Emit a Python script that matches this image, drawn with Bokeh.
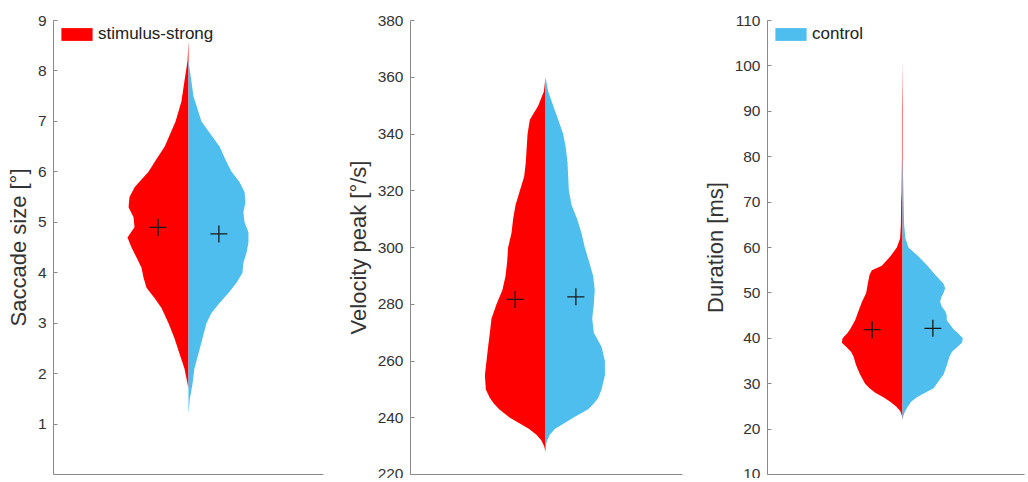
from bokeh.plotting import figure
from bokeh.layouts import row
from bokeh.models import Range1d, FixedTicker, Legend, LegendItem
from bokeh.embed import file_html
from bokeh.resources import INLINE

# ---------------- data ----------------
labels = ["stimulus-strong", "control"]
colors = ["#FF0000", "#4DBEEE"]

# Panel 1: Saccade size
sacc_red_y = [8.6, 8.2, 7.8, 7.4, 7.0, 6.5, 6.2, 6.0, 5.7, 5.5, 5.3, 5.1, 4.9, 4.7, 4.5, 4.3, 4.1, 3.9, 3.7, 3.5, 3.3, 3.0, 2.7, 2.4, 2.1, 1.8, 1.7]
sacc_red_w = [0, .007, .030, .052, .096, .176, .250, .296, .398, .437, .444, .407, .400, .452, .422, .385, .348, .333, .311, .252, .200, .148, .104, .067, .030, .007, 0]
sacc_blue_y = [8.2, 7.5, 7.0, 6.5, 6.2, 6.0, 5.8, 5.6, 5.4, 5.2, 5.0, 4.8, 4.6, 4.4, 4.2, 4.0, 3.8, 3.6, 3.4, 3.2, 3.0, 2.7, 2.4, 2.1, 1.8, 1.5, 1.2]
sacc_blue_w = [0, .037, .096, .230, .281, .319, .378, .415, .422, .407, .415, .444, .444, .430, .407, .400, .356, .296, .230, .170, .133, .104, .074, .044, .030, .010, 0]
sacc_means = [4.90, 4.77]

# Panel 2: Velocity peak
vel_red_y = [360, 355, 350, 345, 340, 330, 325, 320, 315, 310, 305, 300, 295, 290, 285, 280, 275, 270, 265, 260, 255, 250, 247, 245, 243, 240, 238, 236, 234, 232, 230, 228]
vel_red_w = [0, .012, .054, .116, .133, .146, .158, .190, .222, .240, .252, .277, .284, .296, .319, .363, .400, .412, .425, .437, .449, .442, .412, .383, .343, .264, .190, .121, .067, .030, .010, 0]
vel_blue_y = [360, 355, 350, 345, 340, 335, 330, 325, 320, 315, 310, 305, 300, 295, 290, 285, 280, 275, 270, 265, 260, 255, 250, 247, 245, 243, 240, 238, 236, 234, 232, 230]
vel_blue_w = [0, .020, .057, .094, .131, .151, .163, .168, .173, .193, .235, .267, .291, .323, .353, .365, .358, .346, .358, .415, .440, .440, .415, .390, .358, .316, .205, .136, .069, .032, .012, 0]
vel_means = [281.7, 282.6]

# Panel 3: Duration
dur_red_y = [101, 90, 80, 72, 70, 65, 62, 60, 58, 56, 55, 54, 52, 50, 48, 46, 44, 42, 41, 40, 39, 38, 37, 36, 34, 32, 30, 29, 28, 27, 26, 25, 24, 23, 22]
dur_red_w = [0, .004, .004, .007, .010, .012, .018, .042, .091, .153, .227, .244, .257, .269, .301, .326, .351, .388, .412, .444, .449, .412, .380, .363, .343, .314, .277, .244, .202, .141, .091, .047, .017, .005, 0]
dur_blue_y = [80, 75, 70, 65, 62, 60, 58, 56, 54, 52, 51, 50, 49, 48, 47, 46, 45, 44, 43, 42, 41, 40, 39, 38, 37, 36, 34, 32, 30, 29, 28, 27, 26, 25, 24, 23, 22]
dur_blue_w = [0, .005, .008, .012, .022, .044, .119, .185, .242, .304, .316, .304, .286, .279, .291, .316, .328, .328, .353, .378, .415, .447, .440, .402, .365, .348, .328, .304, .254, .230, .168, .106, .064, .040, .020, .007, 0]
dur_means = [41.9, 42.2]

panels = [
    dict(title="Saccade size [°]", yr=(0, 9), ticks=[1, 2, 3, 4, 5, 6, 7, 8, 9],
         red=(sacc_red_y, sacc_red_w), blue=(sacc_blue_y, sacc_blue_w), means=sacc_means,
         width=342, bl=53, br=19, xr=(0, 2), legend=0),
    dict(title="Velocity peak [°/s]", yr=(220, 380), ticks=list(range(220, 381, 20)),
         red=(vel_red_y, vel_red_w), blue=(vel_blue_y, vel_blue_w), means=vel_means,
         width=357, bl=68, br=17, xr=(0, 272 / 135), legend=None),
    dict(title="Duration [ms]", yr=(10, 110), ticks=list(range(10, 111, 10)),
         red=(dur_red_y, dur_red_w), blue=(dur_blue_y, dur_blue_w), means=dur_means,
         width=326, bl=68, br=1, xr=(0, 257 / 135), legend=1),
]

FONT = "Liberation Sans"
AXIS_COLOR = "#8a8a8a"
TEXT_COLOR = "#333333"
CENTER = 1.0
MEAN_OFF = 0.225

figs = []
for pd_ in panels:
    p = figure(width=pd_["width"], height=478, output_backend="svg", toolbar_location=None,
               x_range=Range1d(*pd_["xr"]), y_range=Range1d(*pd_["yr"]),
               min_border_left=pd_["bl"], min_border_right=pd_["br"],
               min_border_top=20, min_border_bottom=4)
    p.outline_line_color = None
    p.grid.visible = False
    p.background_fill_color = "white"
    p.border_fill_color = "white"

    ry, rw = pd_["red"]
    by, bw = pd_["blue"]
    r_red = p.harea(x1=[CENTER - w for w in rw], x2=[CENTER] * len(rw), y=ry,
                    fill_color=colors[0])
    r_blue = p.harea(x1=[CENTER] * len(bw), x2=[CENTER + w for w in bw], y=by,
                     fill_color=colors[1])
    p.scatter(x=[CENTER - MEAN_OFF, CENTER + MEAN_OFF], y=pd_["means"], marker="cross",
              size=17, line_color="#1a1a1a", line_width=1.3)

    # axes
    yax = p.yaxis[0]
    yax.ticker = FixedTicker(ticks=pd_["ticks"])
    yax.axis_label = pd_["title"]
    yax.axis_label_text_font = FONT
    yax.axis_label_text_font_size = "22px"
    yax.axis_label_text_font_style = "normal"
    yax.axis_label_text_color = TEXT_COLOR
    yax.axis_label_standoff = 4
    yax.major_label_text_font = FONT
    yax.major_label_text_font_size = "15.5px"
    yax.major_label_text_color = TEXT_COLOR
    yax.major_label_standoff = 7
    yax.axis_line_color = AXIS_COLOR
    yax.major_tick_line_color = AXIS_COLOR
    yax.major_tick_in = 4
    yax.major_tick_out = 0
    yax.minor_tick_line_color = None

    xax = p.xaxis[0]
    xax.ticker = FixedTicker(ticks=[])
    xax.axis_line_color = AXIS_COLOR
    xax.major_tick_line_color = None
    xax.minor_tick_line_color = None
    xax.major_label_standoff = 0
    xax.major_tick_out = 0
    xax.major_tick_in = 0

    if pd_["legend"] is not None:
        idx = pd_["legend"]
        rend = r_red if idx == 0 else r_blue
        leg = Legend(items=[LegendItem(label=labels[idx], renderers=[rend])],
                     location="top_left", margin=4, padding=0,
                     border_line_color=None, background_fill_alpha=0,
                     glyph_width=39, glyph_height=16, label_height=16,
                     label_standoff=2, label_text_font=FONT,
                     label_text_font_size="17px", label_text_color="#222222")
        p.add_layout(leg)
    figs.append(p)

layout = row(*figs)
open("out.html", "w").write(file_html(layout, INLINE))
